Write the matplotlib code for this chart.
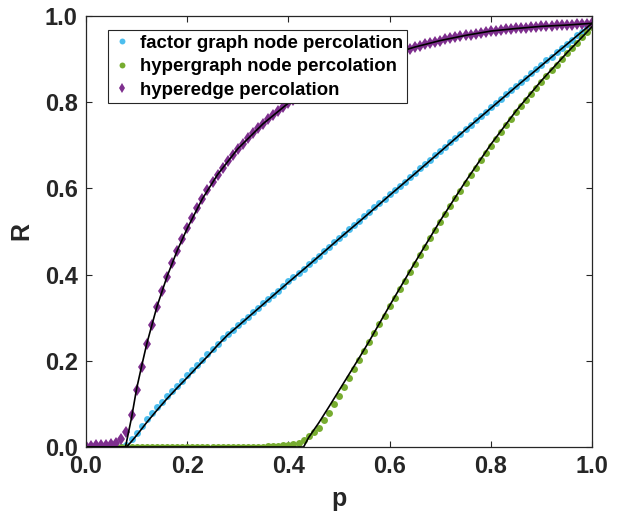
import numpy as np
import matplotlib
matplotlib.use('Agg')
import matplotlib.pyplot as plt

plt.rcParams['font.family'] = ['Liberation Sans', 'DejaVu Sans']
plt.rcParams['font.weight'] = 'bold'

# occupation probability grid of the simulations
p = np.linspace(0.0, 1.0, 101)

# simulated giant component
R_factor = [
    0.000, 0.000, 0.000, 0.000, 0.000, 0.000, 0.000, 0.000, 0.004, 0.018,
    0.033, 0.049, 0.064, 0.078, 0.092, 0.105, 0.118, 0.130, 0.142, 0.154,
    0.166, 0.178, 0.190, 0.202, 0.215, 0.227, 0.240, 0.252, 0.262, 0.272,
    0.282, 0.292, 0.302, 0.313, 0.323, 0.333, 0.343, 0.353, 0.363, 0.373,
    0.384, 0.394, 0.404, 0.414, 0.424, 0.434, 0.444, 0.454, 0.465, 0.475,
    0.485, 0.495, 0.505, 0.515, 0.525, 0.535, 0.545, 0.556, 0.566, 0.576,
    0.586, 0.596, 0.606, 0.616, 0.626, 0.636, 0.647, 0.657, 0.667, 0.677,
    0.687, 0.697, 0.707, 0.717, 0.727, 0.738, 0.748, 0.758, 0.768, 0.778,
    0.788, 0.798, 0.808, 0.818, 0.828, 0.838, 0.848, 0.857, 0.867, 0.877,
    0.887, 0.897, 0.906, 0.916, 0.926, 0.936, 0.945, 0.955, 0.964, 0.974,
    0.983,
]
R_hypergraph = [
    0.000, 0.000, 0.000, 0.000, 0.000, 0.000, 0.000, 0.000, 0.000, 0.000,
    0.000, 0.000, 0.000, 0.000, 0.000, 0.000, 0.000, 0.000, 0.000, 0.000,
    0.000, 0.000, 0.000, 0.000, 0.000, 0.000, 0.000, 0.000, 0.000, 0.000,
    0.000, 0.001, 0.001, 0.001, 0.001, 0.001, 0.002, 0.002, 0.003, 0.004,
    0.005, 0.007, 0.010, 0.016, 0.025, 0.034, 0.044, 0.062, 0.080, 0.100,
    0.119, 0.139, 0.159, 0.180, 0.201, 0.223, 0.244, 0.265, 0.285, 0.305,
    0.326, 0.346, 0.366, 0.386, 0.406, 0.425, 0.445, 0.464, 0.484, 0.503,
    0.522, 0.541, 0.559, 0.577, 0.595, 0.613, 0.631, 0.648, 0.665, 0.682,
    0.699, 0.715, 0.731, 0.747, 0.762, 0.777, 0.792, 0.806, 0.820, 0.834,
    0.848, 0.861, 0.874, 0.887, 0.900, 0.913, 0.926, 0.938, 0.951, 0.963,
    0.975,
]
R_hyperedge = [
    0.003, 0.003, 0.004, 0.004, 0.005, 0.007, 0.010, 0.018, 0.034, 0.074,
    0.132, 0.186, 0.239, 0.283, 0.325, 0.362, 0.395, 0.426, 0.455, 0.482,
    0.507, 0.531, 0.554, 0.576, 0.596, 0.615, 0.632, 0.648, 0.664, 0.678,
    0.692, 0.704, 0.716, 0.728, 0.739, 0.750, 0.760, 0.770, 0.780, 0.789,
    0.798, 0.806, 0.814, 0.821, 0.828, 0.835, 0.841, 0.847, 0.853, 0.859,
    0.864, 0.870, 0.875, 0.880, 0.885, 0.889, 0.894, 0.898, 0.902, 0.906,
    0.910, 0.914, 0.917, 0.921, 0.924, 0.928, 0.931, 0.934, 0.937, 0.940,
    0.943, 0.946, 0.948, 0.951, 0.953, 0.955, 0.957, 0.959, 0.961, 0.963,
    0.965, 0.966, 0.968, 0.969, 0.970, 0.971, 0.972, 0.973, 0.974, 0.975,
    0.976, 0.977, 0.977, 0.978, 0.979, 0.979, 0.980, 0.981, 0.981, 0.982,
    0.983,
]

# theory curves (black lines)
th_factor_p = [0.0, 0.08, 0.09, 0.10, 0.12, 0.14, 0.16, 0.18, 0.20, 0.22,
               0.24, 0.26, 0.28, 0.30, 0.35, 0.40, 0.45, 0.50, 0.55, 0.60,
               0.65, 0.70, 0.75, 0.80, 0.85, 0.90, 0.95, 1.00]
th_factor_R = [0.0, 0.0, 0.013, 0.027, 0.057, 0.085, 0.112, 0.137, 0.161, 0.186,
               0.210, 0.236, 0.260, 0.280, 0.331, 0.382, 0.432, 0.483, 0.533, 0.584,
               0.634, 0.685, 0.736, 0.786, 0.836, 0.885, 0.934, 0.983]
th_hyper_p = [0.0, 0.43, 0.44, 0.46, 0.48, 0.50, 0.52, 0.54, 0.56, 0.60,
              0.65, 0.70, 0.75, 0.80, 0.85, 0.90, 0.95, 1.00]
th_hyper_R = [0.0, 0.0, 0.022, 0.056, 0.093, 0.131, 0.169, 0.207, 0.246, 0.328,
              0.428, 0.525, 0.616, 0.702, 0.780, 0.850, 0.914, 0.975]
th_edge_p = [0.0, 0.078, 0.09, 0.10, 0.11, 0.12, 0.14, 0.16, 0.18, 0.20,
             0.23, 0.26, 0.30, 0.35, 0.40, 0.45, 0.50, 0.55, 0.60, 0.65,
             0.70, 0.75, 0.80, 0.85, 0.90, 0.95, 1.00]
th_edge_R = [0.0, 0.0, 0.068, 0.135, 0.188, 0.239, 0.325, 0.395, 0.455, 0.507,
             0.576, 0.632, 0.692, 0.750, 0.798, 0.835, 0.864, 0.889, 0.910, 0.928,
             0.943, 0.955, 0.965, 0.971, 0.976, 0.979, 0.983]

labels = ['factor graph node percolation',
          'hypergraph node percolation',
          'hyperedge percolation']

blue = '#4DBEEE'
green = '#77AC30'
purple = '#7E2F8E'
dark = '#262626'

fig = plt.figure(figsize=(6.18, 5.19), dpi=100)
ax = fig.add_axes([86 / 618, 1 - 447 / 519, 506 / 618, 431 / 519])

ax.plot(p, R_factor, 'o', color=blue, markersize=5.0, markeredgewidth=0,
        label=labels[0])
ax.plot(p, R_hypergraph, 'o', color=green, markersize=5.0, markeredgewidth=0,
        label=labels[1])
ax.plot(p, R_hyperedge, 'd', color=purple, markersize=6.0, markeredgewidth=0,
        label=labels[2])

ax.plot(th_factor_p, th_factor_R, '-', color='black', lw=1.2)
ax.plot(th_hyper_p, th_hyper_R, '-', color='black', lw=1.2)
ax.plot(th_edge_p, th_edge_R, '-', color='black', lw=1.2)

ax.set_xlim(0, 1)
ax.set_ylim(0, 1)
ticks = [0.0, 0.2, 0.4, 0.6, 0.8, 1.0]
ax.set_xticks(ticks)
ax.set_yticks(ticks)
ax.set_xticklabels(['%.1f' % t for t in ticks])
ax.set_yticklabels(['%.1f' % t for t in ticks])
ax.tick_params(direction='in', length=4, width=0.8, top=True, right=True,
               labelsize=17, colors=dark, pad=6)
for s in ax.spines.values():
    s.set_color(dark)
    s.set_linewidth(0.9)

ax.set_xlabel('p', fontsize=18, fontweight='bold', color=dark, labelpad=6)
ax.set_ylabel('R', fontsize=18, fontweight='bold', color=dark, labelpad=8)

leg = ax.legend(loc='upper left', bbox_to_anchor=(0.0435, 0.9675),
                borderaxespad=0, fontsize=13.4, frameon=True, fancybox=False,
                framealpha=1, edgecolor=dark, handlelength=1.0,
                handletextpad=0.45, borderpad=0.25, labelspacing=0.35,
                markerscale=0.85)
leg.get_frame().set_linewidth(0.8)

plt.savefig('out.png', dpi=100)
